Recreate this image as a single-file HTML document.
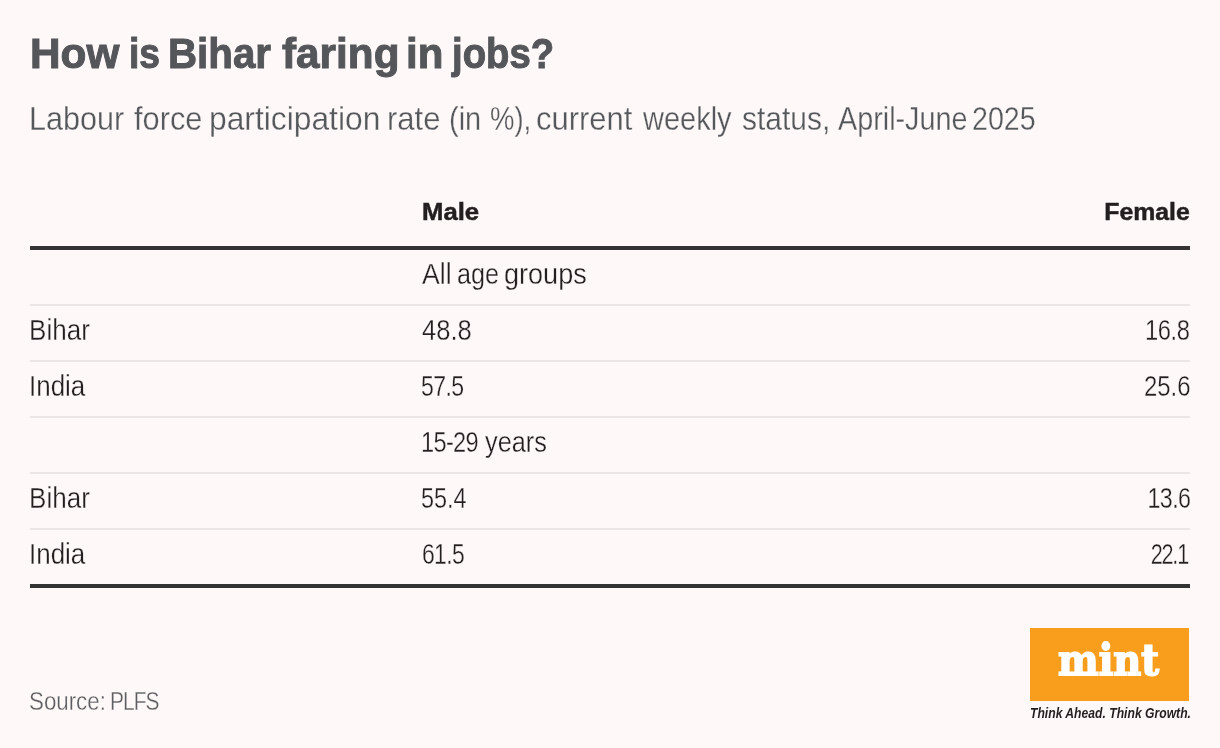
<!DOCTYPE html>
<html lang="en">
<head>
<meta charset="utf-8">
<title>How is Bihar faring in jobs?</title>
<style>
html,body{margin:0;padding:0;}
body{width:1220px;height:748px;background:#fef8f8;position:relative;overflow:hidden;font-family:"Liberation Sans",sans-serif;color:#231f20;}
h1,p{margin:0;padding:0;font-size:0;line-height:0;}
.t{position:absolute;white-space:nowrap;line-height:1;margin:0;padding:0;font-weight:normal;transform-origin:0 0;}
.r{transform-origin:100% 0;}
.thick{position:absolute;left:30px;width:1160px;height:4px;background:#333;}
.thin{position:absolute;left:30px;width:1160px;height:2px;background:#ebe6e5;}
#logo{position:absolute;left:1030px;top:628px;width:159px;height:72.5px;background:#f99d1c;}
.ttl{font-size:43.3px;font-weight:bold;color:#54565a;-webkit-text-stroke:1px #54565a;top:32.35px}
.sub{font-size:33.3px;color:#55585b;-webkit-text-stroke:0.3px #fef8f8;top:102.06px}
.hd{font-size:24.6px;font-weight:bold;-webkit-text-stroke:0.5px #231f20;top:200.43px}
.c{font-size:29.0px;-webkit-text-stroke:0.3px #fef8f8}
.y0{top:259.7px}
.y1{top:315.7px}
.y2{top:371.7px}
.y3{top:427.7px}
.y4{top:483.7px}
.y5{top:539.7px}
.src{font-size:25.7px;color:#5d5e61;-webkit-text-stroke:0.3px #fef8f8;top:689.49px}
.mint{font-size:42.5px;font-family:"DejaVu Serif","Liberation Serif",serif;font-weight:bold;color:#fff;-webkit-text-stroke:1.8px #fff;top:638.77px}
.tag{font-size:14.0px;font-weight:bold;font-style:italic;top:706.15px}
</style>
</head>
<body>
<h1 id="title">
  <span class="t ttl" id="title_0" style="left:29.8px;transform:scaleX(0.9778)">How</span>
  <span class="t ttl" id="title_1" style="left:128.6px;transform:scaleX(0.8615)">is</span>
  <span class="t ttl" id="title_2" style="left:167.82px;transform:scaleX(0.9307)">Bihar</span>
  <span class="t ttl" id="title_3" style="left:282.26px;transform:scaleX(0.9766)">faring</span>
  <span class="t ttl" id="title_4" style="left:405.54px;transform:scaleX(0.9704)">in</span>
  <span class="t ttl" id="title_5" style="left:451.63px;transform:scaleX(0.8845)">jobs?</span>
</h1>
<p id="sub">
  <span class="t sub" id="sub_0" style="left:29.09px;transform:scaleX(0.9177)">Labour</span>
  <span class="t sub" id="sub_1" style="left:133.98px;transform:scaleX(0.9236)">force</span>
  <span class="t sub" id="sub_2" style="left:208.62px;transform:scaleX(0.9543)">participation</span>
  <span class="t sub" id="sub_3" style="left:386.98px;transform:scaleX(0.9321)">rate</span>
  <span class="t sub" id="sub_4" style="left:448.54px;transform:scaleX(0.8702)">(in</span>
  <span class="t sub" id="sub_5" style="left:490.07px;transform:scaleX(0.8242)">%),</span>
  <span class="t sub" id="sub_6" style="left:536.28px;transform:scaleX(0.9297)">current</span>
  <span class="t sub" id="sub_7" style="left:643.12px;transform:scaleX(0.8701)">weekly</span>
  <span class="t sub" id="sub_8" style="left:742.27px;transform:scaleX(0.9000)">status,</span>
  <span class="t sub" id="sub_9" style="left:837.54px;transform:scaleX(0.8635)">April-June</span>
  <span class="t sub" id="sub_10" style="left:972.34px;transform:scaleX(0.8594)">2025</span>
</p>

<div class="t hd" id="hm" style="left:421.76px;transform:scaleX(1.0453)">Male</div>
<div class="t hd r" id="hf" style="right:29.8px;transform:scaleX(1.0084)">Female</div>
<div class="thick" style="top:246px"></div>

<div id="g1">
  <span class="t c y0" id="g1_0" style="left:421.94px;transform:scaleX(0.9200)">All</span>
  <span class="t c y0" id="g1_1" style="left:456.66px;transform:scaleX(0.8689)">age</span>
  <span class="t c y0" id="g1_2" style="left:504.41px;transform:scaleX(0.9333)">groups</span>
</div>
<div class="thin" style="top:304px"></div>

<div class="t c y1" id="r1a" style="left:29.27px;transform:scaleX(0.8988)">Bihar</div>
<div class="t c y1" id="r1b" style="left:421.57px;transform:scaleX(0.8807)">48.8</div>
<div class="t c y1 r" id="r1c" style="right:30.08px;transform:scaleX(0.8176);letter-spacing:-0.5px">16.8</div>
<div class="thin" style="top:360px"></div>

<div class="t c y2" id="r2a" style="left:29.2px;transform:scaleX(0.8950)">India</div>
<div class="t c y2" id="r2b" style="left:421.06px;transform:scaleX(0.7961);letter-spacing:-0.8px">57.5</div>
<div class="t c y2 r" id="r2c" style="right:29.59px;transform:scaleX(0.8243)">25.6</div>
<div class="thin" style="top:416px"></div>

<div id="g2">
  <span class="t c y3" id="g2_0" style="left:420.87px;transform:scaleX(0.8127);letter-spacing:-0.8px">15-29</span>
  <span class="t c y3" id="g2_1" style="left:485.34px;transform:scaleX(0.8741)">years</span>
</div>
<div class="thin" style="top:472px"></div>

<div class="t c y4" id="r3a" style="left:29.27px;transform:scaleX(0.8988)">Bihar</div>
<div class="t c y4" id="r3b" style="left:421.2px;transform:scaleX(0.8074)">55.4</div>
<div class="t c y4 r" id="r3c" style="right:30.07px;transform:scaleX(0.8020);letter-spacing:-0.8px">13.6</div>
<div class="thin" style="top:528px"></div>

<div class="t c y5" id="r4a" style="left:29.2px;transform:scaleX(0.8950)">India</div>
<div class="t c y5" id="r4b" style="left:421.68px;transform:scaleX(0.7902);letter-spacing:-0.8px">61.5</div>
<div class="t c y5 r" id="r4c" style="right:31.94px;transform:scaleX(0.7467);letter-spacing:-1.6px">22.1</div>
<div class="thick" style="top:584px"></div>

<div id="src">
  <span class="t src" id="src_0" style="left:29.44px;transform:scaleX(0.8682)">Source:</span>
  <span class="t src" id="src_1" style="left:109.89px;transform:scaleX(0.8158);letter-spacing:-1.2px">PLFS</span>
</div>

<div id="logo"></div>
<div class="t mint" id="mint" style="left:1058.36px;transform:scaleX(0.9045)">mint</div>
<div class="t tag" id="tag" style="left:1029.59px;transform:scaleX(0.8682)">Think Ahead. Think Growth.</div>
</body>
</html>
